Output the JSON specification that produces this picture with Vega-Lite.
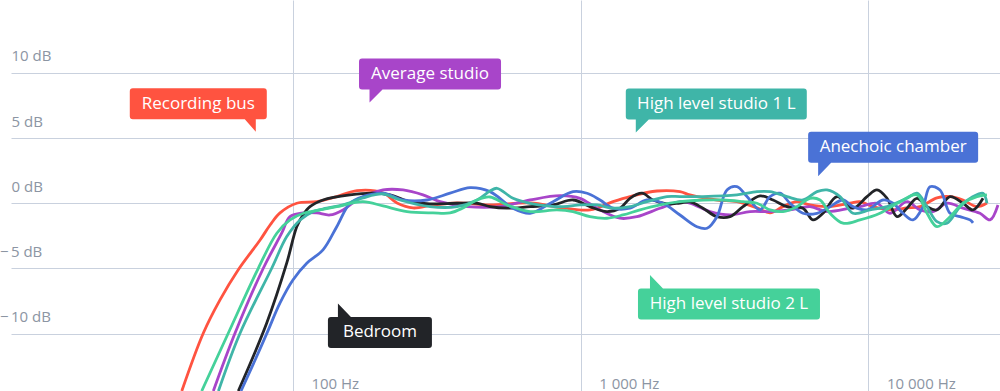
{
  "$schema": "https://vega.github.io/schema/vega-lite/v6.json",
  "width": 989,
  "height": 391,
  "autosize": {"type": "none"},
  "padding": {"left": 11, "top": 0, "right": 0, "bottom": 0},
  "background": "white",
  "config": {"view": {"stroke": null}, "font": "Open Sans"},
  "datasets": {
    "curves": [
      {"series":"Recording bus","f":41.1,"db":-14.41},{"series":"Recording bus","f":48.8,"db":-9.98},{"series":"Recording bus","f":55.8,"db":-7.42},{"series":"Recording bus","f":64.5,"db":-5.12},{"series":"Recording bus","f":76.9,"db":-2.82},{"series":"Recording bus","f":83.3,"db":-1.67},{"series":"Recording bus","f":90.2,"db":-0.74},{"series":"Recording bus","f":103.1,"db":0.0},{"series":"Recording bus","f":121,"db":0.12},{"series":"Recording bus","f":142,"db":0.51},{"series":"Recording bus","f":167,"db":0.97},{"series":"Recording bus","f":205.7,"db":0.79},{"series":"Recording bus","f":230,"db":0.02},{"series":"Recording bus","f":261.5,"db":-0.36},{"series":"Recording bus","f":306.8,"db":-0.13},{"series":"Recording bus","f":371.8,"db":0.02},{"series":"Recording bus","f":484,"db":-0.13},{"series":"Recording bus","f":666.7,"db":0.02},{"series":"Recording bus","f":868,"db":-0.36},{"series":"Recording bus","f":1077,"db":-0.51},{"series":"Recording bus","f":1295,"db":0.12},{"series":"Recording bus","f":1483,"db":0.51},{"series":"Recording bus","f":1841,"db":0.94},{"series":"Recording bus","f":2213,"db":0.89},{"series":"Recording bus","f":2397,"db":0.64},{"series":"Recording bus","f":2975,"db":0.25},{"series":"Recording bus","f":3491,"db":0.12},{"series":"Recording bus","f":4098,"db":-0.36},{"series":"Recording bus","f":4548,"db":-0.74},{"series":"Recording bus","f":5045,"db":-0.26},{"series":"Recording bus","f":5642,"db":0.12},{"series":"Recording bus","f":6261,"db":-0.13},{"series":"Recording bus","f":7175,"db":-0.26},{"series":"Recording bus","f":8623,"db":0.0},{"series":"Recording bus","f":9342,"db":0.12},{"series":"Recording bus","f":10360,"db":-0.26},{"series":"Recording bus","f":11880,"db":-0.51},{"series":"Recording bus","f":13610,"db":-0.36},{"series":"Recording bus","f":15100,"db":-0.26},{"series":"Recording bus","f":17300,"db":0.41},{"series":"Recording bus","f":19200,"db":0.51},{"series":"Recording bus","f":21300,"db":0.25},{"series":"Recording bus","f":23820,"db":-0.26},{"series":"Recording bus","f":25800,"db":0.02},

      {"series":"Average studio","f":52.9,"db":-14.41},{"series":"Average studio","f":62.9,"db":-9.98},{"series":"Average studio","f":78.9,"db":-4.99},{"series":"Average studio","f":91.4,"db":-2.3},{"series":"Average studio","f":97.7,"db":-1.03},{"series":"Average studio","f":108.4,"db":-0.74},{"series":"Average studio","f":121,"db":-0.74},{"series":"Average studio","f":134.5,"db":-0.9},{"series":"Average studio","f":149.3,"db":-0.51},{"series":"Average studio","f":167,"db":0.25},{"series":"Average studio","f":205.7,"db":1.02},{"series":"Average studio","f":241.4,"db":1.02},{"series":"Average studio","f":283.2,"db":0.64},{"series":"Average studio","f":324.4,"db":0.12},{"series":"Average studio","f":402.6,"db":-0.26},{"series":"Average studio","f":524.4,"db":-0.26},{"series":"Average studio","f":666.7,"db":0.25},{"series":"Average studio","f":847.4,"db":0.58},{"series":"Average studio","f":994.5,"db":0.38},{"series":"Average studio","f":1139,"db":-0.38},{"series":"Average studio","f":1370,"db":-1.15},{"series":"Average studio","f":1569,"db":-1.03},{"series":"Average studio","f":1886,"db":-0.38},{"series":"Average studio","f":2213,"db":0.12},{"series":"Average studio","f":2397,"db":0.0},{"series":"Average studio","f":2813,"db":-0.64},{"series":"Average studio","f":3302,"db":-0.9},{"series":"Average studio","f":3875,"db":-0.64},{"series":"Average studio","f":4548,"db":-0.64},{"series":"Average studio","f":5336,"db":-0.51},{"series":"Average studio","f":6261,"db":-0.26},{"series":"Average studio","f":7175,"db":-0.64},{"series":"Average studio","f":8623,"db":-0.38},{"series":"Average studio","f":9342,"db":-0.26},{"series":"Average studio","f":10700,"db":0.0},{"series":"Average studio","f":11880,"db":-0.77},{"series":"Average studio","f":13610,"db":0.12},{"series":"Average studio","f":15100,"db":-0.51},{"series":"Average studio","f":16760,"db":-0.64},{"series":"Average studio","f":18740,"db":0.0},{"series":"Average studio","f":21300,"db":-0.38},{"series":"Average studio","f":24400,"db":-0.77},{"series":"Average studio","f":26440,"db":-1.28},{"series":"Average studio","f":28180,"db":-0.13},

      {"series":"Bedroom","f":64.6,"db":-14.41},{"series":"Bedroom","f":81.1,"db":-9.19},{"series":"Bedroom","f":95.2,"db":-4.58},{"series":"Bedroom","f":103.1,"db":-1.8},{"series":"Bedroom","f":108.4,"db":-0.9},{"series":"Bedroom","f":114.6,"db":-0.26},{"series":"Bedroom","f":127.2,"db":0.25},{"series":"Bedroom","f":157.9,"db":0.64},{"series":"Bedroom","f":189.8,"db":0.77},{"series":"Bedroom","f":217.5,"db":0.64},{"series":"Bedroom","f":255.3,"db":0.12},{"series":"Bedroom","f":299.5,"db":-0.05},{"series":"Bedroom","f":371.8,"db":0.0},{"series":"Bedroom","f":436.2,"db":0.0},{"series":"Bedroom","f":484,"db":-0.26},{"series":"Bedroom","f":554.5,"db":-0.38},{"series":"Bedroom","f":666.7,"db":-0.26},{"series":"Bedroom","f":801.3,"db":-0.13},{"series":"Bedroom","f":940.4,"db":0.25},{"series":"Bedroom","f":1077,"db":-0.26},{"series":"Bedroom","f":1234,"db":-0.64},{"series":"Bedroom","f":1370,"db":-0.38},{"series":"Bedroom","f":1483,"db":0.38},{"series":"Bedroom","f":1633,"db":0.77},{"series":"Bedroom","f":1783,"db":0.25},{"series":"Bedroom","f":1994,"db":-0.05},{"series":"Bedroom","f":2213,"db":0.02},{"series":"Bedroom","f":2397,"db":0.1},{"series":"Bedroom","f":2660,"db":-0.38},{"series":"Bedroom","f":2975,"db":-1.03},{"series":"Bedroom","f":3302,"db":-1.03},{"series":"Bedroom","f":3664,"db":-0.26},{"series":"Bedroom","f":4198,"db":0.56},{"series":"Bedroom","f":4658,"db":0.25},{"series":"Bedroom","f":5209,"db":-0.26},{"series":"Bedroom","f":5920,"db":-0.38},{"series":"Bedroom","f":6413,"db":-1.28},{"series":"Bedroom","f":6949,"db":-0.77},{"series":"Bedroom","f":7772,"db":0.51},{"series":"Bedroom","f":8833,"db":-0.38},{"series":"Bedroom","f":9880,"db":0.51},{"series":"Bedroom","f":10700,"db":1.02},{"series":"Bedroom","f":11600,"db":0.38},{"series":"Bedroom","f":12560,"db":-1.03},{"series":"Bedroom","f":13610,"db":-0.38},{"series":"Bedroom","f":14740,"db":0.38},{"series":"Bedroom","f":15970,"db":-0.26},{"series":"Bedroom","f":17300,"db":-0.51},{"series":"Bedroom","f":19200,"db":0.51},{"series":"Bedroom","f":21300,"db":0.0},{"series":"Bedroom","f":23080,"db":-0.51},{"series":"Bedroom","f":25000,"db":0.38},

      {"series":"Anechoic chamber","f":66,"db":-14.41},{"series":"Anechoic chamber","f":73.9,"db":-12.03},{"series":"Anechoic chamber","f":81.3,"db":-9.95},{"series":"Anechoic chamber","f":90.2,"db":-7.65},{"series":"Anechoic chamber","f":100,"db":-5.89},{"series":"Anechoic chamber","f":111.7,"db":-4.6},{"series":"Anechoic chamber","f":127.2,"db":-3.58},{"series":"Anechoic chamber","f":142,"db":-1.8},{"series":"Anechoic chamber","f":157.9,"db":0.0},{"series":"Anechoic chamber","f":175.2,"db":0.51},{"series":"Anechoic chamber","f":205.7,"db":0.77},{"series":"Anechoic chamber","f":241.4,"db":0.25},{"series":"Anechoic chamber","f":292.4,"db":0.25},{"series":"Anechoic chamber","f":351.5,"db":0.77},{"series":"Anechoic chamber","f":412.4,"db":1.2},{"series":"Anechoic chamber","f":484,"db":0.89},{"series":"Anechoic chamber","f":581.9,"db":-0.38},{"series":"Anechoic chamber","f":666.7,"db":-0.77},{"series":"Anechoic chamber","f":801.3,"db":0.12},{"series":"Anechoic chamber","f":940.4,"db":0.89},{"series":"Anechoic chamber","f":1052,"db":0.77},{"series":"Anechoic chamber","f":1167,"db":0.25},{"series":"Anechoic chamber","f":1295,"db":-0.38},{"series":"Anechoic chamber","f":1483,"db":-0.38},{"series":"Anechoic chamber","f":1699,"db":0.25},{"series":"Anechoic chamber","f":1931,"db":0.0},{"series":"Anechoic chamber","f":2213,"db":-0.9},{"series":"Anechoic chamber","f":2535,"db":-1.8},{"series":"Anechoic chamber","f":2747,"db":-1.92},{"series":"Anechoic chamber","f":2975,"db":-1.03},{"series":"Anechoic chamber","f":3223,"db":1.02},{"series":"Anechoic chamber","f":3491,"db":1.27},{"series":"Anechoic chamber","f":3783,"db":0.51},{"series":"Anechoic chamber","f":4198,"db":-0.51},{"series":"Anechoic chamber","f":4548,"db":0.51},{"series":"Anechoic chamber","f":4925,"db":0.77},{"series":"Anechoic chamber","f":5336,"db":0.0},{"series":"Anechoic chamber","f":5920,"db":-0.77},{"series":"Anechoic chamber","f":6622,"db":-0.77},{"series":"Anechoic chamber","f":7349,"db":-0.26},{"series":"Anechoic chamber","f":8154,"db":0.25},{"series":"Anechoic chamber","f":8833,"db":-0.26},{"series":"Anechoic chamber","f":9880,"db":-0.51},{"series":"Anechoic chamber","f":11230,"db":0.25},{"series":"Anechoic chamber","f":12170,"db":0.0},{"series":"Anechoic chamber","f":13180,"db":-0.77},{"series":"Anechoic chamber","f":14280,"db":-1.28},{"series":"Anechoic chamber","f":15470,"db":-0.26},{"series":"Anechoic chamber","f":16360,"db":1.27},{"series":"Anechoic chamber","f":17720,"db":1.02},{"series":"Anechoic chamber","f":19200,"db":-0.77},{"series":"Anechoic chamber","f":20800,"db":-1.03},{"series":"Anechoic chamber","f":22530,"db":-1.28},{"series":"Anechoic chamber","f":23080,"db":-1.51},

      {"series":"High level studio 1 L","f":55.1,"db":-14.41},{"series":"High level studio 1 L","f":65.5,"db":-9.98},{"series":"High level studio 1 L","f":84.4,"db":-4.99},{"series":"High level studio 1 L","f":95.2,"db":-2.56},{"series":"High level studio 1 L","f":105.9,"db":-1.28},{"series":"High level studio 1 L","f":117.4,"db":-0.64},{"series":"High level studio 1 L","f":131,"db":-0.38},{"series":"High level studio 1 L","f":149.3,"db":-0.13},{"series":"High level studio 1 L","f":175.2,"db":0.41},{"series":"High level studio 1 L","f":205.7,"db":0.71},{"series":"High level studio 1 L","f":235.6,"db":0.25},{"series":"High level studio 1 L","f":299.5,"db":-0.26},{"series":"High level studio 1 L","f":371.8,"db":-0.26},{"series":"High level studio 1 L","f":436.2,"db":0.25},{"series":"High level studio 1 L","f":484,"db":0.94},{"series":"High level studio 1 L","f":511.9,"db":1.15},{"series":"High level studio 1 L","f":581.9,"db":0.38},{"series":"High level studio 1 L","f":666.7,"db":0.0},{"series":"High level studio 1 L","f":868,"db":-0.26},{"series":"High level studio 1 L","f":994.5,"db":-0.13},{"series":"High level studio 1 L","f":1139,"db":-0.13},{"series":"High level studio 1 L","f":1295,"db":-0.38},{"series":"High level studio 1 L","f":1483,"db":-0.26},{"series":"High level studio 1 L","f":1699,"db":0.12},{"series":"High level studio 1 L","f":1994,"db":0.51},{"series":"High level studio 1 L","f":2213,"db":0.51},{"series":"High level studio 1 L","f":2660,"db":0.51},{"series":"High level studio 1 L","f":3491,"db":0.64},{"series":"High level studio 1 L","f":4098,"db":0.89},{"series":"High level studio 1 L","f":4548,"db":0.89},{"series":"High level studio 1 L","f":5209,"db":0.51},{"series":"High level studio 1 L","f":5920,"db":0.25},{"series":"High level studio 1 L","f":6622,"db":0.89},{"series":"High level studio 1 L","f":7175,"db":1.02},{"series":"High level studio 1 L","f":7961,"db":0.51},{"series":"High level studio 1 L","f":8833,"db":-0.77},{"series":"High level studio 1 L","f":10120,"db":-0.51},{"series":"High level studio 1 L","f":11600,"db":-0.26},{"series":"High level studio 1 L","f":13610,"db":0.38},{"series":"High level studio 1 L","f":14740,"db":0.77},{"series":"High level studio 1 L","f":15970,"db":-0.26},{"series":"High level studio 1 L","f":17300,"db":-1.41},{"series":"High level studio 1 L","f":18740,"db":-1.53},{"series":"High level studio 1 L","f":20800,"db":-0.26},{"series":"High level studio 1 L","f":23080,"db":0.51},{"series":"High level studio 1 L","f":25000,"db":0.77},{"series":"High level studio 1 L","f":25800,"db":0.0},

      {"series":"High level studio 2 L","f":48.2,"db":-14.41},{"series":"High level studio 2 L","f":59.6,"db":-9.98},{"series":"High level studio 2 L","f":75.8,"db":-4.99},{"series":"High level studio 2 L","f":87.9,"db":-2.3},{"series":"High level studio 2 L","f":97.7,"db":-1.28},{"series":"High level studio 2 L","f":108.7,"db":-0.77},{"series":"High level studio 2 L","f":124.2,"db":-0.51},{"series":"High level studio 2 L","f":142,"db":-0.26},{"series":"High level studio 2 L","f":175.2,"db":0.12},{"series":"High level studio 2 L","f":205.7,"db":-0.21},{"series":"High level studio 2 L","f":249.2,"db":-0.64},{"series":"High level studio 2 L","f":306.8,"db":-0.74},{"series":"High level studio 2 L","f":351.5,"db":-0.74},{"series":"High level studio 2 L","f":389.9,"db":-0.36},{"series":"High level studio 2 L","f":436.2,"db":0.25},{"series":"High level studio 2 L","f":484,"db":0.48},{"series":"High level studio 2 L","f":554.5,"db":-0.13},{"series":"High level studio 2 L","f":666.7,"db":-0.64},{"series":"High level studio 2 L","f":827.3,"db":-0.51},{"series":"High level studio 2 L","f":940.4,"db":-0.64},{"series":"High level studio 2 L","f":1077,"db":-1.03},{"series":"High level studio 2 L","f":1234,"db":-1.15},{"series":"High level studio 2 L","f":1403,"db":-0.9},{"series":"High level studio 2 L","f":1607,"db":-0.51},{"series":"High level studio 2 L","f":1886,"db":-0.13},{"series":"High level studio 2 L","f":2213,"db":0.12},{"series":"High level studio 2 L","f":2660,"db":0.25},{"series":"High level studio 2 L","f":3122,"db":0.25},{"series":"High level studio 2 L","f":3664,"db":0.12},{"series":"High level studio 2 L","f":4098,"db":0.0},{"series":"High level studio 2 L","f":4548,"db":-0.51},{"series":"High level studio 2 L","f":5045,"db":-0.64},{"series":"High level studio 2 L","f":5642,"db":-0.26},{"series":"High level studio 2 L","f":6261,"db":0.38},{"series":"High level studio 2 L","f":6784,"db":0.25},{"series":"High level studio 2 L","f":7349,"db":-0.77},{"series":"High level studio 2 L","f":8154,"db":-1.53},{"series":"High level studio 2 L","f":9342,"db":-1.28},{"series":"High level studio 2 L","f":10960,"db":-0.77},{"series":"High level studio 2 L","f":12870,"db":0.12},{"series":"High level studio 2 L","f":14740,"db":0.64},{"series":"High level studio 2 L","f":15970,"db":-0.77},{"series":"High level studio 2 L","f":17300,"db":-1.8},{"series":"High level studio 2 L","f":19200,"db":-1.03},{"series":"High level studio 2 L","f":21300,"db":0.0},{"series":"High level studio 2 L","f":23820,"db":0.51},{"series":"High level studio 2 L","f":25800,"db":0.64}
    ],
    "labels": [
      {"label":"Recording bus","f":46.9,"db":7.64},
      {"label":"Average studio","f":299.5,"db":9.92},
      {"label":"High level studio 1 L","f":2959,"db":7.62},
      {"label":"Anechoic chamber","f":12180,"db":4.3},
      {"label":"Bedroom","f":200.6,"db":-9.92},
      {"label":"High level studio 2 L","f":3275,"db":-7.73}
    ]
  },
  "layer": [
    {
      "data": {"name": "curves"},
      "mark": {"type": "line", "strokeWidth": 2.8, "interpolate": "catmull-rom", "clip": true},
      "encoding": {
        "x": {
          "field": "f", "type": "quantitative", "title": null,
          "scale": {"type": "log", "domain": [10.48, 28640], "nice": false},
          "axis": {
            "values": [100, 1000, 10000], "grid": true, "gridColor": "#c9d1de", "gridWidth": 1,
            "domain": false, "ticks": false, "tickSize": 0,
            "labelAlign": "left", "labelBaseline": "alphabetic", "labelPadding": -3, "labelOffset": 18,
            "labelFlush": false, "labelOverlap": false, "labelFont": "Open Sans", "labelFontSize": 15,
            "labelColor": "#8c95a3",
            "labelExpr": "replace(format(datum.value, ','), ',', ' ') + ' Hz'"
          }
        },
        "y": {
          "field": "db", "type": "quantitative", "title": null,
          "scale": {"domain": [-14.41, 15.6], "nice": false, "zero": false},
          "axis": {
            "values": [-10, -5, 0, 5, 10], "grid": true, "gridColor": "#c9d1de", "gridWidth": 1,
            "domain": false, "ticks": false, "tickSize": 0,
            "labelAlign": "left", "labelBaseline": "alphabetic", "labelOffset": -12,
            "labelPadding": {"condition": {"test": "datum.value < 0", "value": 11.6}, "value": 0},
            "labelFlush": false, "labelOverlap": false, "labelFont": "Open Sans", "labelFontSize": 15,
            "labelColor": "#8c95a3",
            "labelExpr": "datum.value < 0 ? '\u2212\u2009' + format(-datum.value, 'd') + ' dB' : format(datum.value, 'd') + ' dB'"
          }
        },
        "color": {
          "field": "series", "type": "nominal", "legend": null,
          "scale": {
            "domain": ["Recording bus", "Average studio", "Bedroom", "Anechoic chamber", "High level studio 1 L", "High level studio 2 L"],
            "range": ["#ff5340", "#a845c9", "#222428", "#4a72d6", "#3fb5a8", "#45d19a"]
          }
        }
      }
    },
    {
      "data": {"name": "labels"},
      "mark": {"type": "point", "filled": true, "size": 4, "opacity": 1, "strokeWidth": 0},
      "encoding": {
        "x": {"field": "f", "type": "quantitative", "title": null},
        "y": {"field": "db", "type": "quantitative", "title": null},
        "color": {"field": "label", "type": "nominal", "legend": null},
        "shape": {
          "field": "label", "type": "nominal", "legend": null,
          "scale": {
            "domain": ["Recording bus", "Average studio", "High level studio 1 L", "Anechoic chamber", "Bedroom", "High level studio 2 L"],
            "range": [
              "M-65.5,-15.5H65.5Q68.5,-15.5 68.5,-12.5V12.5Q68.5,15.5 65.5,15.5H57.5V28L46.5,15.5H-65.5Q-68.5,15.5 -68.5,12.5V-12.5Q-68.5,-15.5 -65.5,-15.5Z",
              "M-68,-15.5H68Q71,-15.5 71,-12.5V12.5Q71,15.5 68,15.5H-47.5L-60.5,28.5V15.5H-68Q-71,15.5 -71,12.5V-12.5Q-71,-15.5 -68,-15.5Z",
              "M-87.5,-15.5H87.5Q90.5,-15.5 90.5,-12.5V12.5Q90.5,15.5 87.5,15.5H-67.5L-80.5,28.5V15.5H-87.5Q-90.5,15.5 -90.5,12.5V-12.5Q-90.5,-15.5 -87.5,-15.5Z",
              "M-82,-15.5H82Q85,-15.5 85,-12.5V12.5Q85,15.5 82,15.5H-62L-75,29V15.5H-82Q-85,15.5 -85,12.5V-12.5Q-85,-15.5 -82,-15.5Z",
              "M-49,-15.5H-42V-29L-29,-15.5H49Q52,-15.5 52,-12.5V12.5Q52,15.5 49,15.5H-49Q-52,15.5 -52,12.5V-12.5Q-52,-15.5 -49,-15.5Z",
              "M-88,-15.5H-79V-29L-66,-15.5H88Q91,-15.5 91,-12.5V12.5Q91,15.5 88,15.5H-88Q-91,15.5 -91,12.5V-12.5Q-91,-15.5 -88,-15.5Z"
            ]
          }
        }
      }
    },
    {
      "data": {"name": "labels"},
      "mark": {"type": "text", "color": "white", "font": "Open Sans", "fontSize": 17, "align": "center", "baseline": "middle"},
      "encoding": {
        "x": {"field": "f", "type": "quantitative", "title": null},
        "y": {"field": "db", "type": "quantitative", "title": null},
        "text": {"field": "label"}
      }
    }
  ]
}
